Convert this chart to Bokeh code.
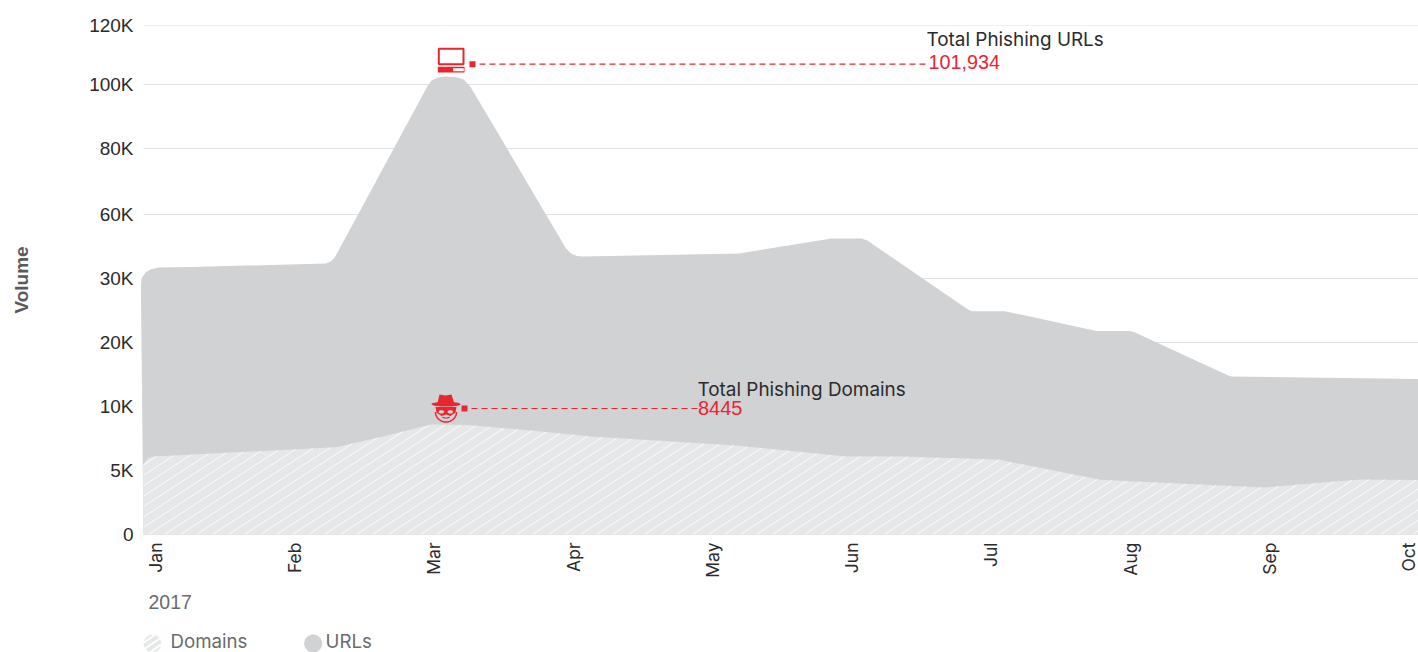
import numpy as np
from bokeh.core.properties import value
from bokeh.embed import file_html
from bokeh.resources import INLINE
from bokeh.layouts import column
from bokeh.models import FixedTicker, Label, Range1d
from bokeh.plotting import figure

months = ["Jan", "Feb", "Mar", "Apr", "May", "Jun", "Jul", "Aug", "Sep", "Oct"]
y_tick_values = [0, 5, 10, 20, 30, 60, 80, 100, 120]
y_tick_labels = ["0", "5K", "10K", "20K", "30K", "60K", "80K", "100K", "120K"]

# fractional month position, volume in thousands
url_months = [-0.097, -0.116, -0.111, -0.083, -0.047, 0.011, 0.241, 1.211, 1.247, 1.276,
              1.945, 1.973, 2.017, 2.073, 2.153, 2.203, 2.254, 2.937, 2.973, 3.016, 3.059,
              4.180, 4.842, 5.058, 5.101, 5.813, 5.849, 6.086, 6.747, 6.984, 7.020, 7.696,
              7.718, 9.069, 9.069]
url_values = [0, 28.9, 30.0, 32.8, 34.2, 35.2, 35.4, 37.0, 38.0, 39.8,
              99.7, 101.4, 102.4, 102.7, 102.5, 101.7, 99.1, 44.1, 41.7, 40.5, 40.3,
              41.7, 48.75, 48.75, 47.8, 25.3, 24.9, 24.9, 21.8, 21.8, 21.6, 14.8,
              14.7, 14.3, 0]
domain_months = [-0.097, -0.101, -0.068, -0.025, 1.247, 1.298, 1.592, 1.966, 2.232, 2.685,
                 3.116, 4.159, 4.950, 5.345, 6.042, 6.762, 6.877, 7.955, 8.458, 8.652, 9.069, 9.069]
domain_values = [0, 5.39, 5.94, 6.09, 6.8, 6.84, 7.58, 8.59, 8.55, 8.13,
                 7.66, 6.95, 6.09, 6.09, 5.86, 4.3, 4.22, 3.67, 4.14, 4.3, 4.26, 0]
url_total = "101,934"
domain_total = "8445"

RED = "#e8262f"
GREY = "#d1d2d4"
PALE = "#e6e7e9"
GRID = "#dfe0e2"
FONT = "Inter"
NUMFONT = "Liberation Sans"

# The axis is broken: its ticks are evenly spaced apart from the top one
tick_pos = [0, 64, 128, 192, 256, 320, 386, 450, 509]


def ymap(v):
    return np.interp(v, y_tick_values, tick_pos)


X0, X1 = -0.1186, 9.0586
FRAME_L, FRAME_W, FRAME_B = 140, 1278, 534
PPM = FRAME_W / (X1 - X0)


def dx(px):
    return X0 + (np.asarray(px, dtype=float) - FRAME_L) / PPM


def dy(py):
    return FRAME_B - np.asarray(py, dtype=float)


p = figure(width=1418, height=580, x_range=Range1d(X0, X1), y_range=Range1d(0, 509),
           output_backend="svg", toolbar_location=None,
           min_border_left=140, min_border_right=0, min_border_top=25, min_border_bottom=46)
p.outline_line_color = None
p.xgrid.visible = False
p.ygrid.visible = False

# horizontal rules
p.segment(x0=[dx(143)] * len(tick_pos), x1=[X1] * len(tick_pos), y0=tick_pos, y1=tick_pos,
          line_color=GRID, line_width=1.2)

# areas
p.patch(url_months, ymap(url_values), fill_color=GREY, line_color=None)
p.patch(domain_months, ymap(domain_values), fill_color=PALE, line_color=None)

# hatch of the domains area
SLOPE, STEP = 0.65, 16.0
xs_dense = np.arange(domain_months[0], X1, 0.002)
top = np.interp(xs_dense, domain_months[1:-1], ymap(domain_values[1:-1]),
                left=ymap(domain_values[1]))
hx, hy = [], []
for c in np.arange(-120, 1420, STEP):
    ly = SLOPE * ((xs_dense - X0) * PPM - c)
    ok = (ly >= 0) & (ly <= top)
    if ok.any():
        i0 = int(np.argmax(ok))
        rest = ~ok[i0:]
        i1 = i0 + (int(np.argmax(rest)) if rest.any() else len(rest)) - 1
        hx.append([xs_dense[i0], xs_dense[i1]])
        hy.append([ly[i0], ly[i1]])
p.multi_line(hx, hy, line_color="white", line_width=1, line_alpha=0.85)

# baseline
p.segment(x0=[dx(143)], x1=[X1], y0=[0], y1=[0], line_color=GRID, line_width=1.2)

# axes (rotated labels sit a little right of their tick, hence the nudge)
LABEL_NUDGE = -0.012
tick_x = [i + LABEL_NUDGE for i in range(len(months))]
ax = p.xaxis[0]
ax.ticker = FixedTicker(ticks=tick_x)
ax.major_label_overrides = dict(zip(tick_x, months))
ax.major_label_orientation = np.pi / 2
ax.axis_line_color = None
ax.major_tick_line_color = None
ax.minor_tick_line_color = None
ax.major_tick_out = 0
ax.major_label_standoff = 8
ax.major_label_text_font = FONT
ax.major_label_text_font_size = "17.5px"
ax.major_label_text_color = "#2b2b2b"

ay = p.yaxis[0]
ay.ticker = FixedTicker(ticks=tick_pos)
ay.major_label_overrides = dict(zip(tick_pos, y_tick_labels))
ay.axis_line_color = None
ay.major_tick_line_color = None
ay.minor_tick_line_color = None
ay.major_tick_out = 0
ay.major_label_standoff = 7
ay.major_label_text_font = NUMFONT
ay.major_label_text_font_size = "19px"
ay.major_label_text_color = "#2b2b2b"
ay.axis_label = "Volume"
ay.axis_label_text_font = "Liberation Sans"
ay.axis_label_text_font_style = "bold"
ay.axis_label_text_font_size = "19px"
ay.axis_label_text_color = "#58595b"
ay.axis_label_standoff = 54


def rect(x0, x1, y0, y1, color):
    p.quad(left=[dx(x0)], right=[dx(x1)], top=[dy(y0)], bottom=[dy(y1)], fill_color=color, line_color=None)


def poly(xs, ys, color):
    p.patch(dx(xs), dy(ys), fill_color=color, line_color=None)


def label(x, y, text, color, font, size):
    p.add_layout(Label(x=float(dx(x)), y=float(dy(y)), text=text, text_color=color, text_font=font,
                       text_font_size=size, text_baseline="middle", text_align="left"))


# URL callout: laptop icon, leader, text
p.quad(left=[dx(438.3)], right=[dx(463)], top=[dy(48.3)], bottom=[dy(63.7)],
       fill_color=None, line_color=RED, line_width=2)
rect(437.3, 464, 66.3, 72, RED)
rect(452.7, 463.3, 67.7, 70.7, "white")
rect(469, 475, 60.7, 66.7, RED)
p.line(dx([479, 927]), dy([63.7, 63.7]), line_color=RED, line_width=1.2, line_dash="6 4")
label(926, 38.5, "Total Phishing URLs", "#2b2b2b", FONT, "18.9px")
label(928, 61, url_total, RED, NUMFONT, "19.8px")

# Domain callout: hat icon, leader, text
t = np.linspace(0, np.pi, 40)
p.line(dx(445.5 + 10.5 * np.cos(t)), dy(411.5 + 10 * np.sin(t)), line_color=RED, line_width=1.5)
full = np.linspace(0, 2 * np.pi, 60)
poly([436.7, 439, 445, 451, 454, 455], [403.5, 394, 395, 394, 403.5, 403.5], RED)
poly(445.5 + 14.5 * np.cos(full), 403.7 + 2.4 * np.sin(full), RED)
poly([435, 456, 455, 450, 445.5, 441, 436], [406.5, 406.5, 412, 415.5, 414, 415.5, 412], RED)
poly(440.8 + 2.8 * np.cos(full), 411.4 + 1.7 * np.sin(full), GREY)
poly(449.8 + 2.8 * np.cos(full), 411.4 + 1.7 * np.sin(full), GREY)
s = np.linspace(0.2 * np.pi, 0.8 * np.pi, 20)
p.line(dx(445.5 + 4.5 * np.cos(s)), dy(415 + 2.5 * np.sin(s)), line_color=RED, line_width=1.2)
rect(461, 467, 405, 411, RED)
p.line(dx([471, 698]), dy([408, 408]), line_color=RED, line_width=1.2, line_dash="6 4")
label(697, 389, "Total Phishing Domains", "#2b2b2b", FONT, "18.9px")
label(697.5, 407.5, domain_total, RED, NUMFONT, "20px")

# Strip under the chart: year and legend (its frame lines up with the chart's frame)
lf = figure(width=1418, height=72, x_range=Range1d(140, 1418), y_range=Range1d(652, 580),
            output_backend="svg", toolbar_location=None,
            min_border_left=140, min_border_right=0, min_border_top=0, min_border_bottom=0)
lf.axis.visible = False
lf.grid.visible = False
lf.outline_line_color = None
lf.text([148], [601], text=["2017"], text_color="#6a6b6d", text_font_size="19.5px",
        text_baseline="middle", text_font=value(NUMFONT))
lf.text([170, 325], [641, 641], text=["Domains", "URLs"], text_color="#6a6b6d", text_font_size="18.7px",
        text_baseline="middle", text_font=value(FONT))
tt = np.linspace(0, 2 * np.pi, 60)
lf.patch(152 + 8.8 * np.cos(tt), 643 + 8.8 * np.sin(tt), fill_color=PALE, line_color=None)
lf.patch(312.7 + 9 * np.cos(tt), 643 + 9 * np.sin(tt), fill_color=GREY, line_color=None)
for off in (-7, 0, 7):
    # white chords across the legend swatch
    a, b = 0.7, off
    disc = (1 + a * a) * 8.8 ** 2 - b ** 2
    u0, u1 = (-a * b - np.sqrt(disc)) / (1 + a * a), (-a * b + np.sqrt(disc)) / (1 + a * a)
    lf.line([152 + u0, 152 + u1], [643 - (a * u0 + b), 643 - (a * u1 + b)], line_color="white", line_width=2)

html = file_html(column(p, lf, spacing=0), INLINE)
open("out.html", "w").write(html)
